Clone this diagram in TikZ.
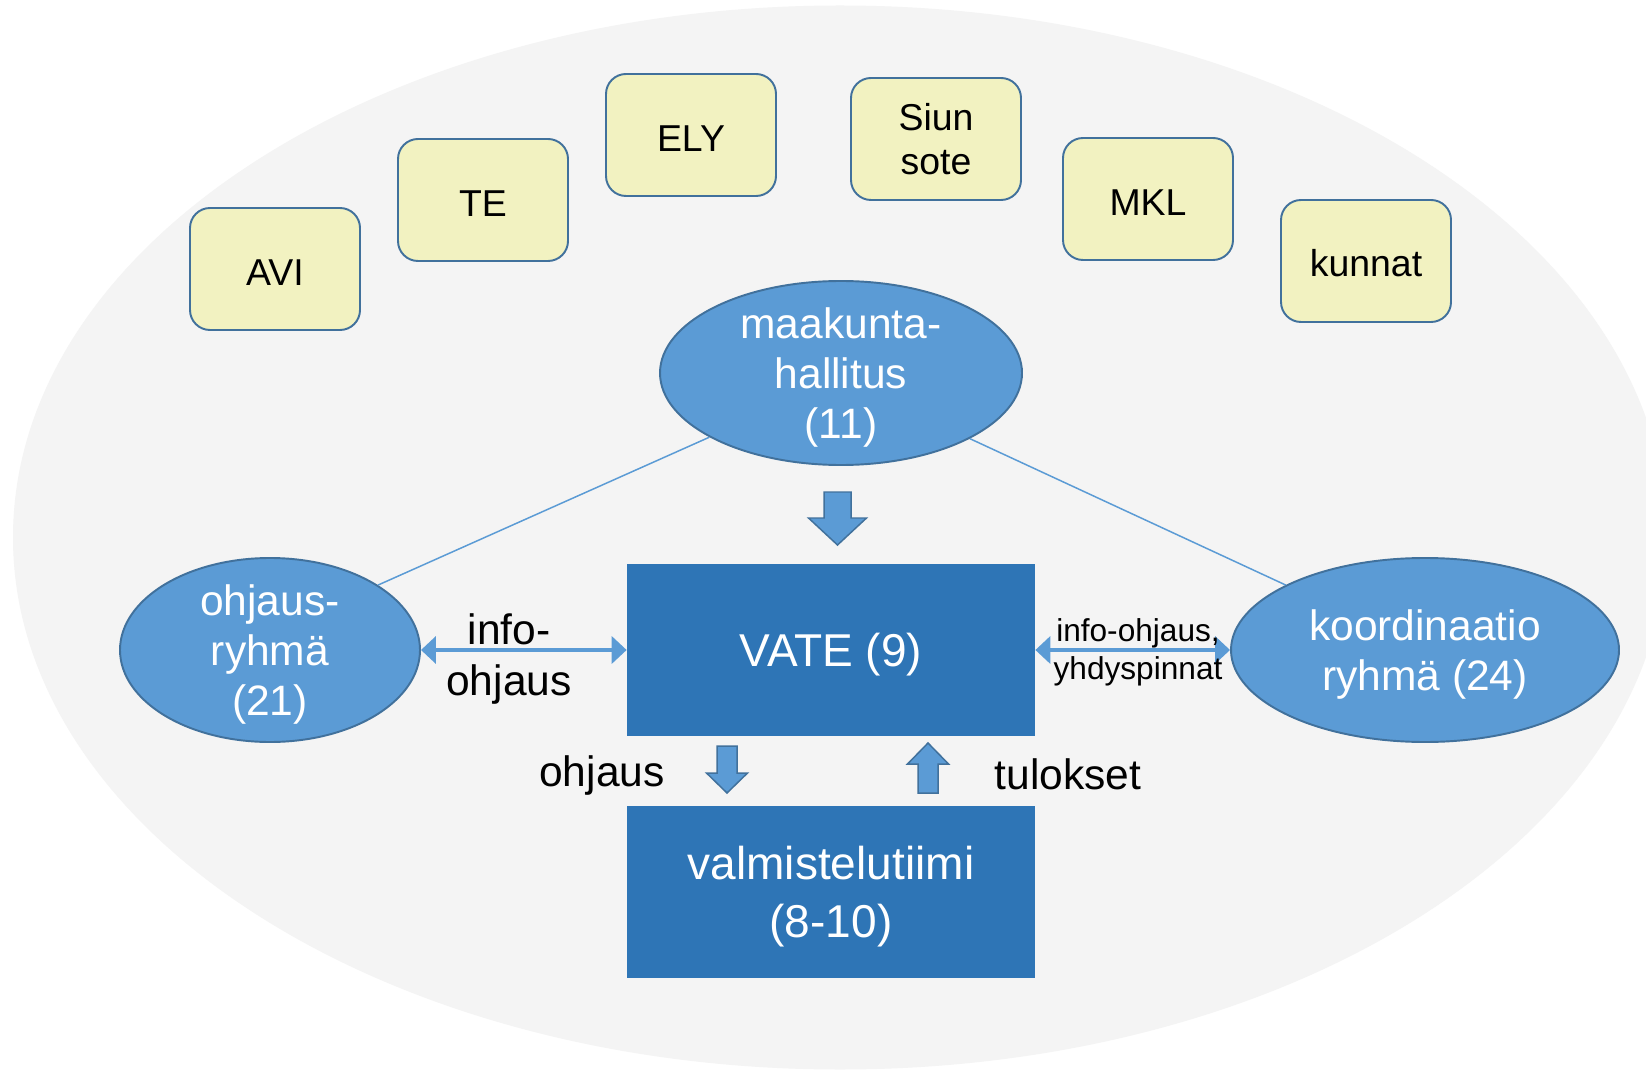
\documentclass[tikz,border=0pt]{standalone}
\usepackage{fontspec}
\setmainfont{Liberation Sans}
\usepackage{tikz}
\usetikzlibrary{arrows.meta,shapes.geometric}
\definecolor{bggray}{RGB}{244,244,244}
\definecolor{boxyellow}{RGB}{242,242,193}
\definecolor{edgeblue}{RGB}{65,113,156}
\definecolor{lightblue}{RGB}{91,155,213}
\definecolor{darkblue}{RGB}{46,117,182}
\def\blockarrow[#1](#2)(#3:#4:#5:#6:#7){\draw[#1,shift={(#2)},rotate=#3] (-#4,0) -- (#4,0) -- (#4,-#6) -- (#5,-#6) -- (0,-#6-#7) -- (-#5,-#6) -- (-#4,-#6) -- cycle;}
\tikzset{
	orgbox/.style={draw=edgeblue, fill=boxyellow, line width=1.1pt, rounded corners=0.4cm, minimum width=3.4cm, minimum height=2.44cm, align=center, font=\fontsize{21.3}{25}\selectfont, execute at begin node={\rule{0pt}{18.4pt}}},
	groupell/.style={ellipse, draw=edgeblue, fill=lightblue, line width=1.1pt, inner xsep=0pt, inner ysep=-0.5cm, minimum height=3.68cm, align=center, text=white, font=\fontsize{24.2}{28.5}\selectfont, text depth=-2.1pt},
	teambox/.style={fill=darkblue, minimum width=8.16cm, minimum height=3.44cm, align=center, text=white, font=\fontsize{26.2}{33}\selectfont, text depth=-2.3pt},
	infoarr/.style={lightblue, line width=2.3pt, {Triangle[length=0.3cm,width=0.54cm]}-{Triangle[length=0.3cm,width=0.54cm]}},
	linkline/.style={lightblue, line width=0.85pt},
	blockarr/.style={fill=lightblue, draw=edgeblue, line width=0.85pt},
	lbl/.style={align=center, font=\fontsize{24.2}{28.5}\selectfont},
	smalllbl/.style={align=center, font=\fontsize{18}{21.6}\selectfont}
}

\begin{document}
\begin{tikzpicture}
		%%%%% START %%%%%
		
		\useasboundingbox (0,0) rectangle (32.92,21.38);
		\fill[white] (0,0) rectangle (32.92,21.38);
		\begin{scope}
			\clip (0,0) rectangle (32.92,21.38);
			\fill[bggray] (16.8,10.63) ellipse (16.54 and 10.64);
		\end{scope}
		
		\node[orgbox] (avi) at (5.50,16.00) {AVI};
		\node[orgbox] (te) at (9.66,17.38) {TE};
		\node[orgbox] (ely) at (13.82,18.68) {ELY};
		\node[orgbox] (siun) at (18.72,18.60) {Siun\\sote};
		\node[orgbox] (mkl) at (22.96,17.40) {MKL};
		\node[orgbox] (kunnat) at (27.32,16.16) {kunnat};
		
		\node[groupell, minimum width=7.24cm] (hallitus) at (16.82,13.92) {maakunta-\\hallitus\\(11)};
		\node[groupell, minimum width=6.0cm] (ohjryhma) at (5.40,8.38) {ohjaus-\\ryhmä\\(21)};
		\node[groupell, minimum width=7.76cm] (koord) at (28.50,8.38) {koordinaatio\\ryhmä (24)};
		
		\node[teambox] (vate) at (16.62,8.38) {VATE (9)};
		\node[teambox, text depth=-5.5pt] (valm) at (16.62,3.54) {valmistelutiimi\\(8-10)};
		
		\draw[linkline] (hallitus.206) -- (ohjryhma.31);
		\draw[linkline] (hallitus.333) -- (koord.155);
		
		\draw[infoarr] (ohjryhma.east) -- (vate.west);
		\draw[infoarr] (vate.east) -- (koord.west);
		
		\node[lbl] (infolbl) at (10.18,8.20) {info-\\ohjaus};
		\node[smalllbl] (yhdlbl) at (22.76,8.34) {info-ohjaus,\\yhdyspinnat};
		\node[lbl] (ohjlbl) at (12.04,5.87) {ohjaus};
		\node[lbl] (tuloslbl) at (21.36,5.90) {tulokset};
		
		\blockarrow[blockarr](16.75,11.54)(0:0.27:0.58:0.52:0.54)
		\blockarrow[blockarr](14.54,6.46)(0:0.2:0.41:0.54:0.40)
		\blockarrow[blockarr](18.56,5.52)(180:0.2:0.41:0.58:0.42)
		
		%%%%% END %%%%%
	\end{tikzpicture}
\end{document}
